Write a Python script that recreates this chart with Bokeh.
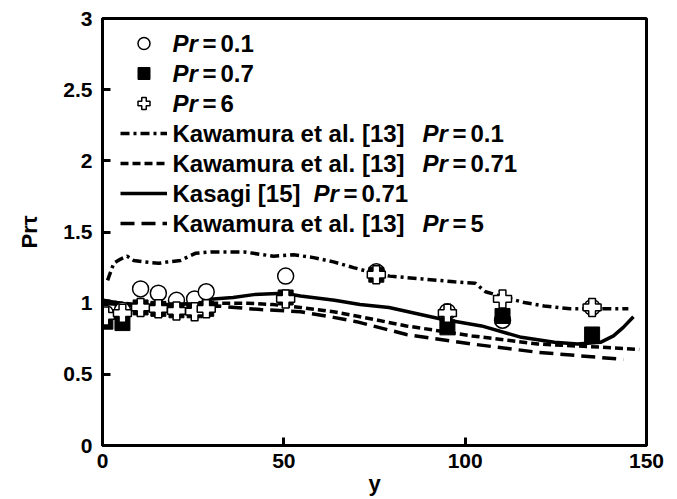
from bokeh.plotting import figure
from bokeh.models import Range1d, Legend, LegendItem, Label, FixedTicker
from bokeh.embed import file_html
from bokeh.resources import INLINE

# ---------------- data ----------------
y_pts = [0.8, 5.5, 10.5, 15.4, 20.4, 25.4, 28.6, 50.5, 75.5, 95.1, 110.3, 135.0]
pr_01 = [0.93, 0.95, 1.10, 1.07, 1.02, 1.03, 1.08, 1.19, 1.22, 0.94, 0.88, 0.97]
pr_07 = [0.87, 0.86, 0.97, 0.96, 0.95, 0.95, 0.96, 1.04, 1.20, 0.83, 0.91, 0.78]
pr_6 = [0.91, 0.93, 0.97, 0.96, 0.945, 0.94, 0.96, 1.03, 1.20, 0.93, 1.03, 0.97]

kaw01_y = [1.4, 3.1, 5.0, 6.8, 8.6, 11.4, 15.5, 18.0, 21.5, 25.6, 29.8, 34.4, 39.0, 41.7,
           47.2, 52.7, 58.2, 63.7, 69.2, 75.0, 79.2, 88.2, 97.0, 102.8, 105.6, 111.0,
           116.3, 121.8, 129.0, 138.0, 145.0]
kaw01_v = [1.16, 1.28, 1.31, 1.33, 1.30, 1.29, 1.28, 1.29, 1.30, 1.35, 1.36, 1.36, 1.36, 1.35,
           1.33, 1.34, 1.32, 1.29, 1.25, 1.21, 1.19, 1.17, 1.15, 1.14, 1.08, 1.04,
           1.005, 0.98, 0.96, 0.96, 0.96]

kaw071_y = [0.0, 5.0, 10.0, 20.0, 30.6, 40.0, 47.0, 54.6, 63.7, 70.0, 83.8, 101.9, 120.0, 138.0, 148.0]
kaw071_v = [1.02, 1.00, 0.99, 0.99, 1.00, 1.00, 0.99, 0.97, 0.94, 0.91, 0.84, 0.77, 0.713, 0.69, 0.675]

kas_y = [0.0, 5.0, 8.6, 15.0, 22.0, 30.6, 36.0, 41.7, 50.0, 54.6, 64.0, 71.0, 79.0, 93.0,
         104.5, 115.5, 124.6, 131.0, 137.3, 140.9, 143.6, 146.4]
kas_v = [1.02, 1.00, 0.98, 0.98, 0.99, 1.03, 1.04, 1.06, 1.07, 1.05, 1.02, 0.99, 0.97, 0.89,
         0.84, 0.76, 0.725, 0.713, 0.725, 0.77, 0.83, 0.905]

kaw5_y = [0.0, 5.0, 10.0, 20.0, 31.6, 43.6, 54.6, 63.7, 70.0, 83.8, 101.9, 120.0, 143.6]
kaw5_v = [1.00, 0.99, 0.98, 0.97, 0.98, 0.955, 0.94, 0.90, 0.87, 0.78, 0.713, 0.655, 0.605]

x_ticks = [0, 50, 100, 150]
x_tick_labels = ["0", "50", "100", "150"]
y_ticks = [0, 0.5, 1, 1.5, 2, 2.5, 3]
y_tick_labels = ["0", "0.5", "1", "1.5", "2", "2.5", "3"]

legend_prefix = ["", "", "", "Kawamura et al. [13]", "Kawamura et al. [13]", "Kasagi [15]", "Kawamura et al. [13]"]
legend_value = ["0.1", "0.7", "6", "0.1", "0.71", "0.71", "5"]
x_title = "y"
y_title = "Prτ"

# ---------------- style ----------------
FONT = "Liberation Sans"
INK = "black"
W, H = 677, 499
FL, FR, FT, FB = 102, 646, 18, 445   # frame edges in canvas px

p = figure(width=W, height=H, x_range=Range1d(0, 150), y_range=Range1d(0, 3),
           output_backend="svg", toolbar_location=None,
           min_border_left=FL, min_border_right=W - FR,
           min_border_top=FT, min_border_bottom=H - FB)
p.outline_line_color = INK
p.outline_line_width = 3
p.xgrid.grid_line_color = None
p.ygrid.grid_line_color = None

xa = p.xaxis[0]
ya = p.yaxis[0]
for ax, ticks, labels in ((xa, x_ticks, x_tick_labels), (ya, y_ticks, y_tick_labels)):
    ax.ticker = FixedTicker(ticks=ticks)
    ax.axis_line_color = INK
    ax.axis_line_width = 3
    ax.major_tick_line_color = INK
    ax.major_tick_line_width = 3
    ax.major_tick_in = 8
    ax.major_tick_out = 0
    ax.minor_tick_line_color = None
    ax.major_label_overrides = {t: l for t, l in zip(ticks, labels)}
    ax.major_label_text_font = FONT
    ax.major_label_text_font_style = "bold"
    ax.major_label_text_font_size = "21px"
    ax.major_label_text_color = INK
    ax.axis_label_text_font = FONT
    ax.axis_label_text_font_style = "bold"
    ax.axis_label_text_font_size = "22px"
    ax.axis_label_text_color = INK
xa.major_label_standoff = 8
ya.major_label_standoff = 10
xa.axis_label = x_title
xa.axis_label_standoff = 0
ya.axis_label = y_title
ya.axis_label_standoff = 18

# ---------------- glyphs ----------------
LW = 3.5
r_k01 = p.line(kaw01_y, kaw01_v, line_color=INK, line_width=LW, line_dash="9 4 3 4")
r_k071 = p.line(kaw071_y, kaw071_v, line_color=INK, line_width=LW, line_dash="8 4")
r_kas = p.line(kas_y, kas_v, line_color=INK, line_width=LW)
r_k5 = p.line(kaw5_y, kaw5_v, line_color=INK, line_width=LW, line_dash="14 7")

r_c = p.scatter(y_pts, pr_01, marker="circle", size=16, fill_color="white",
                line_color=INK, line_width=1.5)
r_s = p.scatter(y_pts, pr_07, marker="square", size=15, fill_color=INK,
                line_color=INK, line_width=1)
r_p = p.scatter(y_pts, pr_6, marker="plus", size=18, fill_color="white",
                line_color=INK, line_width=1.5)

# ---------------- legend (glyph samples) ----------------
renderers = [r_c, r_s, r_p, r_k01, r_k071, r_kas, r_k5]
items = [LegendItem(label=" ", renderers=[r]) for r in renderers]
ROW = 30
legend = Legend(items=items, location=(18, FB - (43 - ROW // 2 + 7 * ROW)),
                glyph_width=47, glyph_height=ROW, spacing=0, padding=0,
                label_width=0, label_height=10, label_standoff=0,
                label_text_font_size="8px", border_line_alpha=0,
                background_fill_alpha=0, margin=0)
p.add_layout(legend, "center")

# ---------------- legend texts ----------------
TXT = 24
for i, (pre, val) in enumerate(zip(legend_prefix, legend_value)):
    cy = 43 + ROW * i
    if pre:
        p.add_layout(Label(x=172 - FL, y=FB - cy, x_units="screen", y_units="screen",
                           text=pre, text_font=FONT, text_font_style="bold",
                           text_font_size=f"{TXT}px", text_color=INK, text_baseline="middle"))
        pr_x = 313 if pre.startswith("Kasagi") else 422
    else:
        pr_x = 172
    p.add_layout(Label(x=pr_x - FL, y=FB - cy, x_units="screen", y_units="screen",
                       text="Pr", text_font=FONT, text_font_style="bold italic",
                       text_font_size=f"{TXT}px", text_color=INK, text_baseline="middle"))
    p.add_layout(Label(x=pr_x + 30 - FL, y=FB - cy, x_units="screen", y_units="screen",
                       text="=", text_font=FONT, text_font_style="bold",
                       text_font_size=f"{TXT}px", text_color=INK, text_baseline="middle"))
    p.add_layout(Label(x=pr_x + 48 - FL, y=FB - cy, x_units="screen", y_units="screen",
                       text=val, text_font=FONT, text_font_style="bold",
                       text_font_size=f"{TXT}px", text_color=INK, text_baseline="middle"))

open("out.html", "w").write(file_html(p, INLINE))
